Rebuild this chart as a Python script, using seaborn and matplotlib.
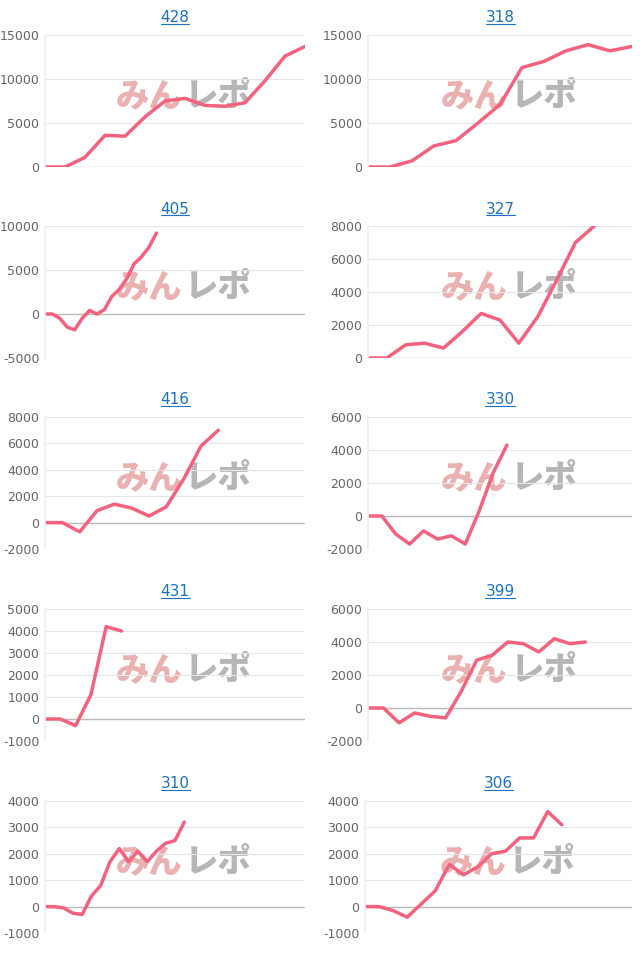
import matplotlib
matplotlib.use("Agg")
import matplotlib.pyplot as plt
import seaborn as sns
import numpy as np

sns.set_theme(style="white")
plt.rcParams['font.family'] = ['Noto Sans CJK JP', 'DejaVu Sans']

# machine numbers (panel titles), row by row
titles = ["428", "318", "405", "327", "416", "330", "431", "399", "310", "306"]

# cumulative diff series
series = [
    [0, 0, 1100, 3600, 3500, 5700, 7500, 7800, 7000, 6900, 7300, 9800, 12600, 13700],
    [0, 0, 700, 2400, 3000, 5000, 7100, 11300, 12000, 13200, 13900, 13200, 13700],
    [0, 0, -500, -1500, -1800, -500, 400, 0, 500, 2000, 2800, 4000, 5700, 6500, 7600, 9200],
    [0, 0, 800, 900, 600, 1600, 2700, 2300, 900, 2500, 4700, 7000, 8000],
    [0, 0, -700, 900, 1400, 1100, 500, 1200, 3300, 5800, 7000],
    [0, 0, -1100, -1700, -900, -1400, -1200, -1700, 300, 2600, 4300],
    [0, 0, -300, 1100, 4200, 4000],
    [0, 0, -900, -300, -500, -600, 1000, 2900, 3200, 4000, 3900, 3400, 4200, 3900, 4000],
    [0, 0, -50, -250, -300, 400, 800, 1700, 2200, 1700, 2100, 1700, 2100, 2400, 2500, 3200],
    [0, 0, -150, -400, 100, 600, 1600, 1200, 1500, 2000, 2100, 2600, 2600, 3600, 3100],
]
# number of x slots on each panel
slots = [13, 12, 35, 14, 15, 19, 17, 17, 28, 19]
# y ticks per panel
yticks = [
    [0, 5000, 10000, 15000],
    [0, 5000, 10000, 15000],
    [-5000, 0, 5000, 10000],
    [0, 2000, 4000, 6000, 8000],
    [-2000, 0, 2000, 4000, 6000, 8000],
    [-2000, 0, 2000, 4000, 6000],
    [-1000, 0, 1000, 2000, 3000, 4000, 5000],
    [-2000, 0, 2000, 4000, 6000],
    [-1000, 0, 1000, 2000, 3000, 4000],
    [-1000, 0, 1000, 2000, 3000, 4000],
]

W, H = 640, 958
fig = plt.figure(figsize=(6.4, 9.58), dpi=100)
tops = [35, 226, 417, 609, 801]
lefts = [(45, 305), (368, 632)]
axh = 132

for i, name in enumerate(titles):
    r, c = divmod(i, 2)
    x0, x1 = lefts[c]
    if i == 9:
        x0 = 365
    top = tops[r]
    ax = fig.add_axes([x0 / W, 1 - (top + axh) / H, (x1 - x0) / W, axh / H])
    y = series[i]
    sns.lineplot(x=np.arange(len(y)), y=y, ax=ax, color="#f4627e", lw=2.5)
    ax.set_xlim(0, slots[i])
    ax.set_ylim(yticks[i][0], yticks[i][-1])
    ax.set_yticks(yticks[i])
    ax.set_yticklabels([str(t) for t in yticks[i]], color="#666666", fontsize=9,
                       family=['DejaVu Sans'])
    ax.set_xticks([])
    ax.tick_params(axis='y', length=0, pad=4)
    ax.grid(axis='y', color="#e6e6e6", lw=0.8)
    ax.axhline(0, color="#bbbbbb", lw=1, zorder=1)
    for s in ["top", "right", "bottom"]:
        ax.spines[s].set_visible(False)
    ax.spines["left"].set_color("#f0f0f0")
    ax.set_ylabel("")
    # watermark
    ax.text(0.53, 0.54, "みん", transform=ax.transAxes, fontsize=24, fontweight="black",
            color="#e8a4a4", alpha=0.85, ha="right", va="center", zorder=0)
    ax.text(0.54, 0.54, "レポ", transform=ax.transAxes, fontsize=24, fontweight="black",
            color="#aaaaaa", alpha=0.85, ha="left", va="center", zorder=0)
    ax.set_title(name, color="#1a73c8", fontsize=11, pad=9,
                 family=['DejaVu Sans'])
    t = ax.title
    # underline the title like a link
    fig.canvas.draw()
    bb = t.get_window_extent()
    fig.add_artist(plt.Line2D([bb.x0 / W, bb.x1 / W], [bb.y0 / H + 0.002, bb.y0 / H + 0.002],
                              color="#1a73c8", lw=0.8, transform=fig.transFigure))

fig.savefig("out.png", dpi=100)
